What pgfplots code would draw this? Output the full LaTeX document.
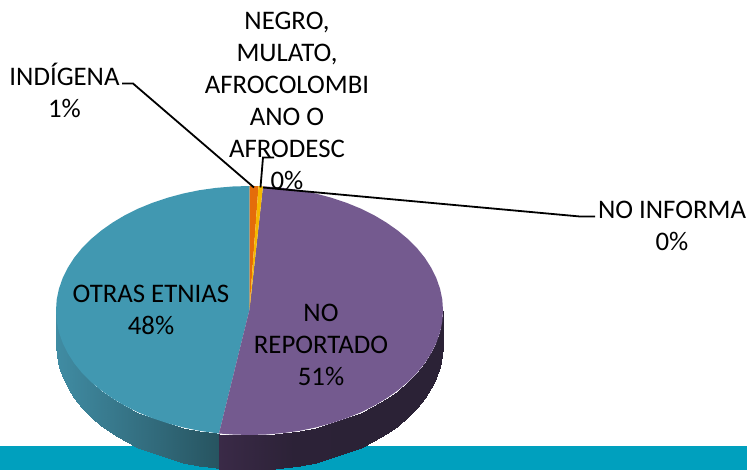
\documentclass[border=0pt]{standalone}
\usepackage{fontspec}
\setmainfont{Carlito}
\usepackage{pgfplots}
\pgfplotsset{compat=1.18}
\definecolor{band}{RGB}{0,160,190}
\definecolor{tealtop}{RGB}{65,152,177}
\definecolor{purptop}{RGB}{116,90,143}
\definecolor{orangetop}{RGB}{228,108,10}
\definecolor{yellowtop}{RGB}{245,184,0}
\pgfplotsset{
 colormap={tealside}{rgb255=(64,140,163) rgb255=(52,112,130) rgb255=(39,84,96)},
 colormap={purpside}{rgb255=(58,42,71) rgb255=(44,34,55) rgb255=(43,34,54) rgb255=(43,34,54)},
}
\begin{document}
\begin{tikzpicture}
\useasboundingbox (0,0) rectangle (747pt,470pt);
\begin{axis}[
  at={(0,0)},anchor=south west,
  width=747pt,height=470pt,scale only axis,hide axis,
  xmin=0,xmax=747,ymin=-0.5,ymax=469.5,y dir=reverse,
  point meta rel=per plot,
]
% background band
\addplot[draw=none,fill=band,forget plot] coordinates {(0,445)(747,445)(747,471)(0,471)};
% side walls
\addplot[surf,shader=interp,colormap name=tealside,mesh/cols=18,point meta=x,forget plot] coordinates {
(56,310)(56.7,320.9)(58.9,331.6)(62.6,342.2)(67.7,352.6)(74.1,362.6)(81.9,372.25)(91,381.4)(101.3,390)(112.7,398)(125.1,405.4)(138.5,412)(152.7,417.8)(167.7,422.8)(183.3,427)(199.4,430.3)(215.9,432.6)(219,433)

(56,345)(56.7,355.9)(58.9,366.6)(62.6,377.2)(67.7,387.6)(74.1,397.6)(81.9,407.25)(91,416.4)(101.3,425)(112.7,433)(125.1,440.4)(138.5,447)(152.7,452.8)(167.7,457.8)(183.3,462)(199.4,465.3)(215.9,467.6)(219,468)
};
\addplot[surf,shader=interp,colormap name=purpside,mesh/cols=21,point meta=x,forget plot] coordinates {
(219,433)(232.6,434)(249.5,434.5)(266.4,434)(283.1,432.6)(299.6,430.3)(315.7,427)(331.3,422.8)(346.3,417.8)(360.5,412)(373.9,405.4)(386.3,398)(397.7,390)(408,381.4)(417.1,372.25)(424.9,362.6)(431.3,352.6)(436.4,342.2)(440.1,331.6)(442.3,320.9)(443,310)

(219,468)(232.6,469)(249.5,469.5)(266.4,469)(283.1,467.6)(299.6,465.3)(315.7,462)(331.3,457.8)(346.3,452.8)(360.5,447)(373.9,440.4)(386.3,433)(397.7,425)(408,416.4)(417.1,407.25)(424.9,397.6)(431.3,387.6)(436.4,377.2)(440.1,366.6)(442.3,355.9)(443,345)
};
% top slices
\addplot[draw=none,fill=tealtop,forget plot] coordinates {
(249.5,309)(249.5,185.5)(232.6,186)(215.9,187.4)(199.4,189.7)(183.3,193)(167.7,197.2)(152.7,202.2)(138.5,208)(125.1,214.6)(112.7,222)(101.3,230)(91,238.6)(81.9,247.75)(74.1,257.4)(67.7,267.4)(62.6,277.8)(58.9,288.4)(56.7,299.1)(56,310)(56.7,320.9)(58.9,331.6)(62.6,342.2)(67.7,352.6)(74.1,362.6)(81.9,372.25)(91,381.4)(101.3,390)(112.7,398)(125.1,405.4)(138.5,412)(152.7,417.8)(167.7,422.8)(183.3,427)(199.4,430.3)(215.9,432.6)(219,433)};
\addplot[draw=none,fill=purptop,forget plot] coordinates {
(249.5,309)(263,185.8)(266.4,186)(283.1,187.4)(299.6,189.7)(315.7,193)(331.3,197.2)(346.3,202.2)(360.5,208)(373.9,214.6)(386.3,222)(397.7,230)(408,238.6)(417.1,247.75)(424.9,257.4)(431.3,267.4)(436.4,277.8)(440.1,288.4)(442.3,299.1)(443,310)(442.3,320.9)(440.1,331.6)(436.4,342.2)(431.3,352.6)(424.9,362.6)(417.1,372.25)(408,381.4)(397.7,390)(386.3,398)(373.9,405.4)(360.5,412)(346.3,417.8)(331.3,422.8)(315.7,427)(299.6,430.3)(283.1,432.6)(266.4,434)(249.5,434.5)(232.6,434)(219,433)};
\addplot[draw=none,fill=orangetop,forget plot] coordinates {(249.5,309)(249.5,185.5)(254,185.5)(258.5,185.6)};
\addplot[draw=none,fill=yellowtop,forget plot] coordinates {(249.5,309)(258.5,185.6)(263,185.8)};
% leader lines
\addplot[black,line width=1.8pt,forget plot] coordinates {(122,83)(133,83)(254,187)};
\addplot[black,line width=1.8pt,forget plot] coordinates {(274,157)(263,157)(260.5,187)};
\addplot[black,line width=1.8pt,forget plot] coordinates {(595,216)(580,216)(263,187)};
% labels
\begin{scope}[every node/.style={align=center,inner sep=0pt,text=black,font=\fontsize{26.8}{32}\selectfont}]
\node at (axis cs:64.5,89.5) {INDÍGENA\\1\%};
\node at (axis cs:287,100.5) {NEGRO,\\MULATO,\\AFROCOLOMBI\\ANO O\\AFRODESC\\0\%};
\node at (axis cs:672,225.5) {NO INFORMA\\0\%};
\node at (axis cs:151,309.5) {OTRAS ETNIAS\\48\%};
\node at (axis cs:321,344) {NO\\REPORTADO\\51\%};
\end{scope}
\end{axis}
\end{tikzpicture}
\end{document}
